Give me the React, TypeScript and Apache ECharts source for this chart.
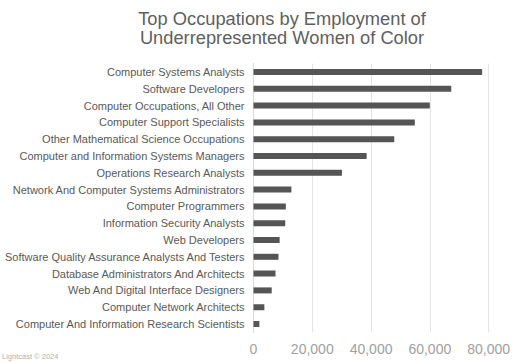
import React, { useEffect, useRef } from "react";
import * as echarts from "echarts";

const categories = [
  "Computer Systems Analysts",
  "Software Developers",
  "Computer Occupations, All Other",
  "Computer Support Specialists",
  "Other Mathematical Science Occupations",
  "Computer and Information Systems Managers",
  "Operations Research Analysts",
  "Network And Computer Systems Administrators",
  "Computer Programmers",
  "Information Security Analysts",
  "Web Developers",
  "Software Quality Assurance Analysts And Testers",
  "Database Administrators And Architects",
  "Web And Digital Interface Designers",
  "Computer Network Architects",
  "Computer And Information Research Scientists",
];

const employment = [
  77800, 67300, 60000, 54900, 47900, 38500, 30100, 12900, 11000, 10800, 8900,
  8500, 7500, 6200, 3700, 2000,
];

const titleText = "Top Occupations by Employment of\nUnderrepresented Women of Color";
const footerText = "Lightcast © 2024";

export default function App() {
  const ref = useRef<HTMLDivElement>(null);
  useEffect(() => {
    document.body.style.margin = "0";
    const chart = echarts.init(ref.current!, null, { renderer: "svg" });
    chart.setOption({
      animation: false,
      backgroundColor: "#ffffff",
      textStyle: { fontFamily: "Liberation Sans, Arial, sans-serif" },
      title: {
        text: titleText,
        left: 277,
        textAlign: "center",
        top: 4,
        textStyle: {
          fontSize: 18.3,
          fontWeight: "normal",
          color: "#606060",
          lineHeight: 19,
          fontFamily: "Liberation Sans, Arial, sans-serif",
        },
      },
      grid: { left: 252, right: 23, top: 63.6, bottom: 29.6, containLabel: false },
      xAxis: {
        type: "value",
        min: 0,
        max: 80000,
        interval: 20000,
        axisLine: { show: false },
        axisTick: { show: false },
        splitLine: { lineStyle: { color: "#e3e3e3", width: 1 } },
        axisLabel: {
          fontSize: 14,
          color: "#a0a0a0",
          margin: 10,
          formatter: (v: number) => v.toLocaleString("en-US"),
        },
      },
      yAxis: {
        type: "category",
        inverse: true,
        data: categories,
        axisLine: { show: true, lineStyle: { color: "#d9d9d9" } },
        axisTick: { show: false },
        axisLabel: { fontSize: 11, color: "#595959", margin: 9 },
      },
      series: [
        {
          type: "bar",
          data: employment,
          barWidth: 6,
          itemStyle: { color: "#555555" },
        },
      ],
      graphic: [
        {
          type: "text",
          left: 2,
          top: 352,
          style: { text: footerText, fontSize: 7.5, fill: "#b0b0b0", fontFamily: "Liberation Sans, Arial, sans-serif" },
        },
      ],
    });
    return () => chart.dispose();
  }, []);
  return <div ref={ref} style={{ width: 513, height: 362 }} />;
}
